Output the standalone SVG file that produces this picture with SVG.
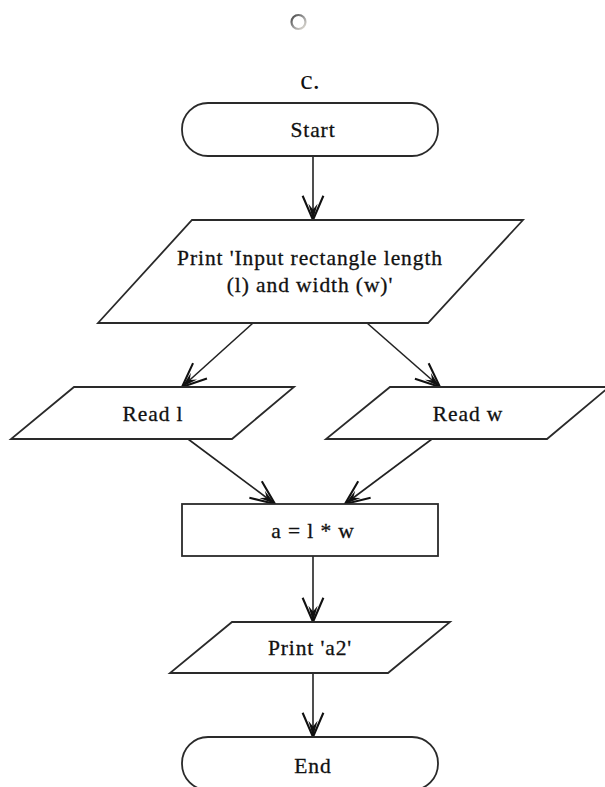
<svg xmlns="http://www.w3.org/2000/svg" width="605" height="787" viewBox="0 0 605 787">
  <style>
    .shape { fill: #ffffff; stroke: #2a2a2a; stroke-width: 1.8; stroke-linejoin: miter; }
    .label { font-family: "Liberation Serif", "Times New Roman", serif; font-size: 21.5px; letter-spacing: 0.9px; fill: #111; stroke: #111; stroke-width: 0.3; text-anchor: middle; }
    .edge { stroke: #222; stroke-width: 1.6; fill: none; marker-end: url(#arrow); }
  </style>
  <defs>
    <linearGradient id="ringGrad" x1="0" y1="0" x2="1" y2="1">
      <stop offset="0" stop-color="#444"/>
      <stop offset="0.5" stop-color="#999"/>
      <stop offset="1" stop-color="#e4e0d8"/>
    </linearGradient>
    <marker id="arrow" markerUnits="userSpaceOnUse" markerWidth="30" markerHeight="30" viewBox="-24 -12 26 24" refX="0" refY="0" orient="auto">
      <path d="M-21,-9 L0,0 L-21,9" fill="none" stroke="#111" stroke-width="1.8"/>
      <path d="M0,0 L-14,-4 L-9,0 L-14,4 Z" fill="#111"/>
    </marker>
  </defs>

  <!-- radio indicator and caption -->
  <circle cx="298.5" cy="22" r="7" fill="#fff" stroke="url(#ringGrad)" stroke-width="2.2"/>
  <text x="310" y="89" font-family="Liberation Serif, serif" font-size="28" text-anchor="middle" fill="#111">c.</text>

  <g id="connectors">
    <line class="edge" x1="313" y1="156" x2="313" y2="220"/>
    <line class="edge" x1="253" y1="323" x2="182" y2="387"/>
    <line class="edge" x1="367" y1="323" x2="440" y2="387"/>
    <line class="edge" x1="188" y1="439" x2="275" y2="504"/>
    <line class="edge" x1="432" y1="439" x2="345" y2="504"/>
    <line class="edge" x1="313" y1="556" x2="313" y2="622"/>
    <line class="edge" x1="313" y1="673" x2="313" y2="737"/>
  </g>

  <g id="start">
    <rect class="shape" x="182" y="103" width="256" height="53" rx="26" ry="26"/>
    <text class="label" x="313" y="137">Start</text>
  </g>

  <g id="print-prompt">
    <polygon class="shape" points="192,220 523,220 428,323 98,323"/>
    <text class="label" x="310" y="265">Print 'Input rectangle length</text>
    <text class="label" x="310" y="292">(l) and width (w)'</text>
  </g>

  <g id="read-l">
    <polygon class="shape" points="74,387 294,387 232,439 11,439"/>
    <text class="label" x="153" y="421">Read l</text>
  </g>

  <g id="read-w">
    <polygon class="shape" points="390,387 609,387 547,439 326,439"/>
    <text class="label" x="468" y="421">Read w</text>
  </g>

  <g id="compute">
    <rect class="shape" x="182" y="504" width="256" height="52"/>
    <text class="label" x="313" y="538">a = l * w</text>
  </g>

  <g id="print-result">
    <polygon class="shape" points="232,622 450,622 388,673 170,673"/>
    <text class="label" x="310" y="655">Print 'a2'</text>
  </g>

  <g id="end">
    <rect class="shape" x="182" y="737" width="256" height="53" rx="26" ry="26"/>
    <text class="label" x="313" y="773">End</text>
  </g>
</svg>
